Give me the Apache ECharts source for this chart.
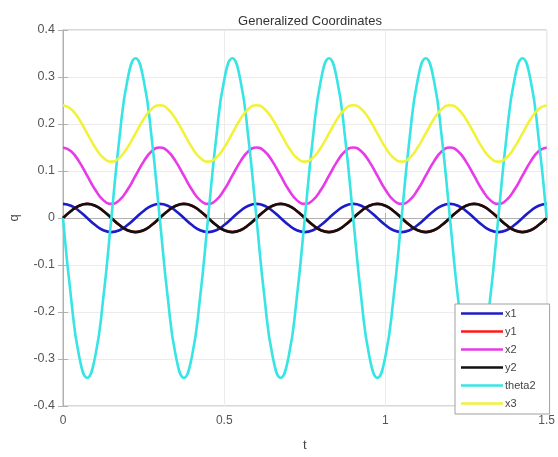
<!DOCTYPE html>
<html>
<head>
<meta charset="utf-8">
<script src="https://cdn.jsdelivr.net/npm/echarts@6/dist/echarts.min.js"></script>
<style>html,body{margin:0;padding:0;background:#fff;}#c{width:558px;height:457px;}</style>
</head>
<body>
<div id="c"></div>
<script>
// time samples every 0.025 s from 0 to 1.5
var t = [0,0.025,0.05,0.075,0.1,0.125,0.15,0.175,0.2,0.225,0.25,0.275,
0.3,0.325,0.35,0.375,0.4,0.425,0.45,0.475,0.5,0.525,0.55,0.575,
0.6,0.625,0.65,0.675,0.7,0.725,0.75,0.775,0.8,0.825,0.85,0.875,
0.9,0.925,0.95,0.975,1.0,1.025,1.05,1.075,1.1,1.125,1.15,1.175,
1.2,1.225,1.25,1.275,1.3,1.325,1.35,1.375,1.4,1.425,1.45,1.475,1.5];

var x1 = [0.03,0.026,0.015,0,-0.015,-0.026,-0.03,-0.026,-0.015,0,0.015,0.026,
0.03,0.026,0.015,0,-0.015,-0.026,-0.03,-0.026,-0.015,0,0.015,0.026,
0.03,0.026,0.015,0,-0.015,-0.026,-0.03,-0.026,-0.015,0,0.015,0.026,
0.03,0.026,0.015,0,-0.015,-0.026,-0.03,-0.026,-0.015,0,0.015,0.026,
0.03,0.026,0.015,0,-0.015,-0.026,-0.03,-0.026,-0.015,0,0.015,0.026,0.03];

var y2 = [0,0.015,0.026,0.03,0.026,0.015,0,-0.015,-0.026,-0.03,-0.026,-0.015,
0,0.015,0.026,0.03,0.026,0.015,0,-0.015,-0.026,-0.03,-0.026,-0.015,
0,0.015,0.026,0.03,0.026,0.015,0,-0.015,-0.026,-0.03,-0.026,-0.015,
0,0.015,0.026,0.03,0.026,0.015,0,-0.015,-0.026,-0.03,-0.026,-0.015,
0,0.015,0.026,0.03,0.026,0.015,0,-0.015,-0.026,-0.03,-0.026,-0.015,0];

// y1 coincides with y2 (hidden underneath it)
var y1 = y2.slice();

var x2 = [0.15,0.142,0.12,0.09,0.06,0.038,0.03,0.038,0.06,0.09,0.12,0.142,
0.15,0.142,0.12,0.09,0.06,0.038,0.03,0.038,0.06,0.09,0.12,0.142,
0.15,0.142,0.12,0.09,0.06,0.038,0.03,0.038,0.06,0.09,0.12,0.142,
0.15,0.142,0.12,0.09,0.06,0.038,0.03,0.038,0.06,0.09,0.12,0.142,
0.15,0.142,0.12,0.09,0.06,0.038,0.03,0.038,0.06,0.09,0.12,0.142,0.15];

var theta2 = [0,-0.17,-0.294,-0.34,-0.294,-0.17,0,0.17,0.294,0.34,0.294,0.17,
0,-0.17,-0.294,-0.34,-0.294,-0.17,0,0.17,0.294,0.34,0.294,0.17,
0,-0.17,-0.294,-0.34,-0.294,-0.17,0,0.17,0.294,0.34,0.294,0.17,
0,-0.17,-0.294,-0.34,-0.294,-0.17,0,0.17,0.294,0.34,0.294,0.17,
0,-0.17,-0.294,-0.34,-0.294,-0.17,0,0.17,0.294,0.34,0.294,0.17,0];

var x3 = [0.24,0.232,0.21,0.18,0.15,0.128,0.12,0.128,0.15,0.18,0.21,0.232,
0.24,0.232,0.21,0.18,0.15,0.128,0.12,0.128,0.15,0.18,0.21,0.232,
0.24,0.232,0.21,0.18,0.15,0.128,0.12,0.128,0.15,0.18,0.21,0.232,
0.24,0.232,0.21,0.18,0.15,0.128,0.12,0.128,0.15,0.18,0.21,0.232,
0.24,0.232,0.21,0.18,0.15,0.128,0.12,0.128,0.15,0.18,0.21,0.232,0.24];

var seriesNames = ['x1','y1','x2','y2','theta2','x3'];
var seriesData = [x1,y1,x2,y2,theta2,x3];
var seriesColors = ['#1c1cc8','#ff1a1a','#e83ae8','#111111','#38e4e4','#f2f23a'];

function pairs(arr){ return t.map(function(v,i){ return [v, arr[i]]; }); }

var font = 'Liberation Sans, Arial, Helvetica, sans-serif';
var chart = echarts.init(document.getElementById('c'));
chart.setOption({
  animation: false,
  backgroundColor: '#fff',
  title: {
    text: 'Generalized Coordinates',
    left: 305, top: 10, textAlign: 'center',
    textStyle: {fontFamily: font, fontSize: 13, fontWeight: 'normal', color: '#333'}
  },
  grid: {left: 62, right: 10, top: 30, bottom: 43, show: true, borderColor: '#b0b0b0', borderWidth: 1},
  legend: {
    orient: 'vertical', left: 455, top: 304,
    data: seriesNames,
    icon: 'path://M0 0H100V6H0Z',
    symbolKeepAspect: true,
    itemWidth: 42, itemHeight: 11, itemGap: 7,
    padding: [4, 14, 5, 6],
    backgroundColor: '#fff', borderColor: '#a0a0a0', borderWidth: 1,
    textStyle: {fontFamily: font, fontSize: 11, color: '#444', padding: [0,0,0,-3]}
  },
  xAxis: [{
    type: 'value', min: 0, max: 1.5, interval: 0.5,
    name: 't', nameLocation: 'middle', nameGap: 33,
    nameTextStyle: {fontFamily: font, fontSize: 13, color: '#444'},
    axisLine: {show: true, lineStyle: {color: '#b0b0b0'}},
    axisTick: {show: true, inside: true, length: 5, lineStyle: {color: '#b0b0b0'}},
    axisLabel: {fontFamily: font, fontSize: 12, color: '#555', margin: 9,
      formatter: function(v){ return String(+v.toFixed(1)); }},
    splitLine: {show: true, lineStyle: {color: '#ececec'}}
  },{
    type: 'value', min: 0, max: 1.5, interval: 0.5, position: 'top',
    axisLine: {show: false},
    axisTick: {show: true, inside: true, length: 5, lineStyle: {color: '#b0b0b0'}},
    axisLabel: {show: false}, splitLine: {show: false}
  }],
  yAxis: [{
    type: 'value', min: -0.4, max: 0.4, interval: 0.1,
    name: 'q', nameLocation: 'middle', nameGap: 42,
    nameTextStyle: {fontFamily: font, fontSize: 13, color: '#444'},
    axisLine: {show: true, lineStyle: {color: '#b0b0b0'}},
    axisTick: {show: true, inside: true, length: 5, lineStyle: {color: '#b0b0b0'}},
    axisLabel: {fontFamily: font, fontSize: 12.5, color: '#555', margin: 8,
      formatter: function(v){ return String(+v.toFixed(1)); }},
    splitLine: {show: true, lineStyle: {color: '#ececec'}}
  },{
    type: 'value', min: -0.4, max: 0.4, interval: 0.1, position: 'right',
    axisLine: {show: false},
    axisTick: {show: true, inside: true, length: 5, lineStyle: {color: '#b0b0b0'}},
    axisLabel: {show: false}, splitLine: {show: false}
  }],
  series: seriesNames.map(function(n, i){
    return {
      name: n, type: 'line', data: pairs(seriesData[i]),
      smooth: true, symbol: 'none', clip: true,
      lineStyle: {color: seriesColors[i], width: 2.6},
      itemStyle: {color: seriesColors[i]}
    };
  })
});
</script>
</body>
</html>
